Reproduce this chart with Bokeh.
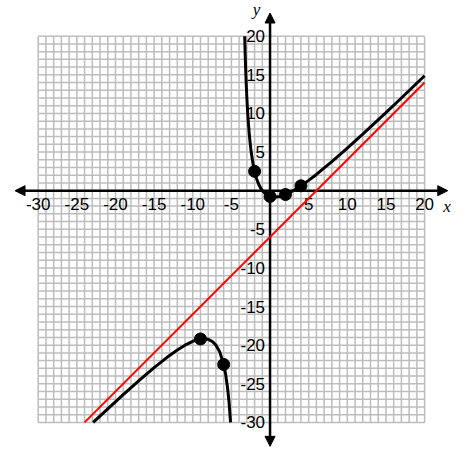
from bokeh.plotting import figure
from bokeh.models import Arrow, NormalHead
from bokeh.core.properties import value
from bokeh.embed import file_html
from bokeh.resources import INLINE

# ---- data ----
x_ticks = [-30, -25, -20, -15, -10, -5, 5, 10, 15, 20]
x_tick_labels = ["-30", "-25", "-20", "-15", "-10", "-5", "5", "10", "15", "20"]
y_ticks = [-30, -25, -20, -15, -10, -5, 5, 10, 15, 20]
y_tick_labels = ["-30", "-25", "-20", "-15", "-10", "-5", "5", "10", "15", "20"]

# black curve, right branch
curve_r_x = [-3.28, -3.2, -3.1, -3.0, -2.9, -2.8, -2.65, -2.5, -2.35, -2.2, -2.0,
             -1.75, -1.5, -1.25, -1.0, -0.5, 0.0, 0.5, 1.0, 1.5, 2.0, 3.0, 4.0,
             5.0, 6.0, 8.0, 10.0, 12.0, 15.0, 17.0, 20.0]
curve_r_y = [20.0, 17.05, 14.23, 12.0, 10.19, 8.7, 6.91, 5.5, 4.38, 3.47, 2.5,
             1.58, 0.9, 0.39, 0.0, -0.5, -0.75, -0.83, -0.8, -0.68, -0.5, 0.0, 0.63,
             1.33, 2.1, 3.75, 5.5, 7.31, 10.11, 12.0, 14.88]
# black curve, left branch
curve_l_x = [-22.89, -21, -19, -17, -15, -13, -12, -11, -10, -9, -8, -7.5, -7,
             -6.5, -6, -5.75, -5.5, -5.3, -5.11]
curve_l_y = [-30.0, -28.24, -26.4, -24.62, -22.91, -21.33, -20.63, -20.0, -19.5,
             -19.2, -19.25, -19.5, -20.0, -20.9, -22.5, -23.75, -25.5, -27.45, -30.0]
# marked points
pts_x = [-9, -6, -2, 0, 2, 4]
pts_y = [-19.2, -22.5, 2.5, -0.75, -0.5, 0.63]
# red asymptote line
asym_x = [-24, 20]
asym_y = [-30, 14]

# grid extent
grid_min, grid_max = -30, 20

# ---- figure ----
p = figure(width=454, height=448, x_range=(-34.88, 23.87), y_range=(-33.38, 24.62),
           output_backend="svg", toolbar_location=None, min_border=0,
           x_axis_type=None, y_axis_type=None)
p.outline_line_color = None
p.background_fill_color = "white"
p.border_fill_color = "white"
p.grid.visible = False

gv = list(range(grid_min, grid_max + 1))
p.segment(x0=gv, y0=[grid_min] * len(gv), x1=gv, y1=[grid_max] * len(gv),
          line_color="#bdbdbd", line_width=1.5, level="image")
p.segment(x0=[grid_min] * len(gv), y0=gv, x1=[grid_max] * len(gv), y1=gv,
          line_color="#bdbdbd", line_width=1.5, level="image")

# axes with arrows
def head():
    return NormalHead(size=10, fill_color="black", line_color="black")

xa = Arrow(start=head(), end=head(), x_start=-33.0, y_start=0, x_end=23.0, y_end=0,
           line_width=2.5, line_color="black", level="underlay")
ya = Arrow(start=head(), end=head(), x_start=0, y_start=-33.1, x_end=0, y_end=23.0,
           line_width=2.5, line_color="black", level="underlay")
p.add_layout(xa)
p.add_layout(ya)

# tick labels
p.text(x=x_ticks, y=[0] * len(x_ticks), text=x_tick_labels, text_align="center",
       text_baseline="middle", y_offset=13, text_font=value("Liberation Sans"),
       text_font_size="17px", text_color="black")
p.text(x=[0] * len(y_ticks), y=y_ticks, text=y_tick_labels, text_align="right",
       text_baseline="middle", x_offset=-5, text_font=value("Liberation Sans"),
       text_font_size="17px", text_color="black")

# axis names
p.text(x=[22.9], y=[-2.1], text=["x"], text_align="center", text_baseline="middle",
       text_font=value("Liberation Serif"), text_font_style="italic",
       text_font_size="17px", text_color="black")
p.text(x=[-1.75], y=[23.4], text=["y"], text_align="center", text_baseline="middle",
       text_font=value("Liberation Serif"), text_font_style="italic",
       text_font_size="17px", text_color="black")

# curves
p.line(asym_x, asym_y, line_color="#ff0000", line_width=2)
p.line(curve_r_x, curve_r_y, line_color="black", line_width=3, line_join="round")
p.line(curve_l_x, curve_l_y, line_color="black", line_width=3, line_join="round")
p.scatter(pts_x, pts_y, size=12, fill_color="black", line_color="black")

open("out.html", "w").write(file_html(p, INLINE))
